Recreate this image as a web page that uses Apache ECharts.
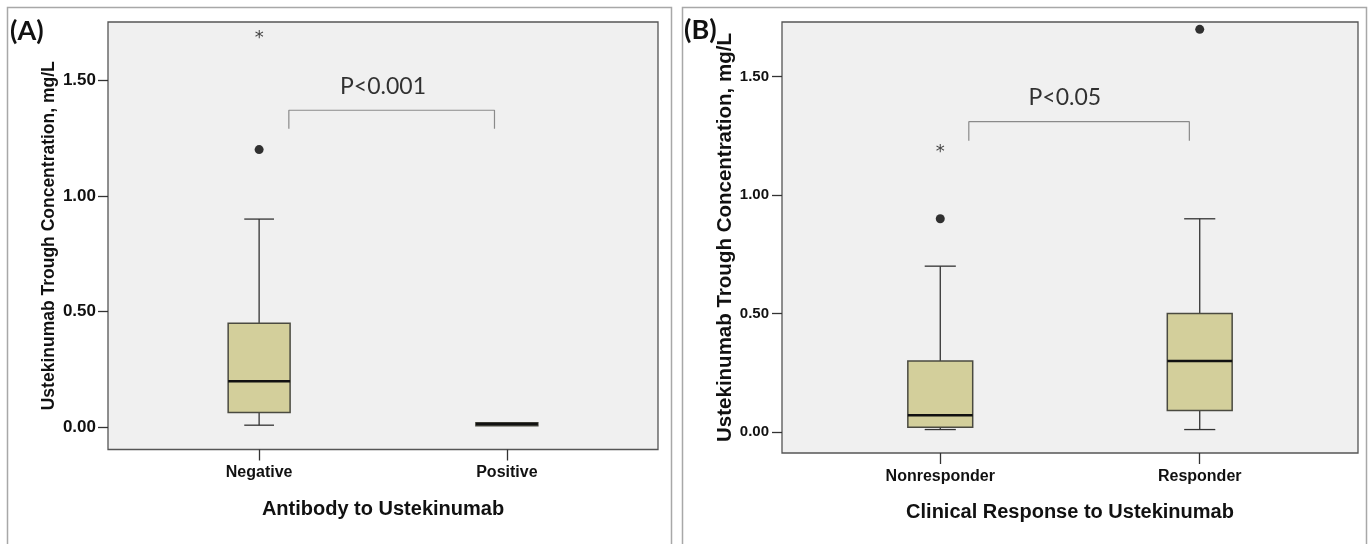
<!DOCTYPE html>
<html>
<head>
<meta charset="utf-8">
<script src="https://cdn.jsdelivr.net/npm/echarts@6/dist/echarts.min.js"></script>
<style>
html,body{margin:0;padding:0;background:#fff;}
#c{width:1370px;height:544px;}
</style>
</head>
<body>
<div id="c"></div>
<script>
// ---------- DATA ----------
const categoriesA = ['Negative', 'Positive'];
const categoriesB = ['Nonresponder', 'Responder'];
// box stats: [lowWhisker, Q1, median, Q3, highWhisker]
const boxA = [[0.01, 0.065, 0.20, 0.45, 0.90], [0.01, 0.01, 0.015, 0.02, 0.02]];
const boxB = [[0.01, 0.02, 0.07, 0.30, 0.70], [0.01, 0.09, 0.30, 0.50, 0.90]];
// outliers (circle) and extremes (star): [categoryIndex(1-based), value]
const outliersA = [[1, 1.20]];
const extremesA = [[1, 1.70]];
const outliersB = [[1, 0.90], [2, 1.70]];
const extremesB = [[1, 1.20]];
// significance brackets: [xLeft, xRight, yTop, yEnd]
const bracketA = [1.12, 1.95, 1.37, 1.29];
const bracketB = [1.11, 1.96, 1.31, 1.23];
const pTextA = 'P<0.001';
const pTextB = 'P<0.05';
const pPosA = [1.50, 1.47];
const pPosB = [1.48, 1.41];
const yTicks = [0, 0.5, 1.0, 1.5];
const xTicks = [1, 2];
const yNameText = 'Ustekinumab Trough Concentration, mg/L';
const xNameA = 'Antibody to Ustekinumab';
const xNameB = 'Clinical Response to Ustekinumab';

// ---------- STYLE ----------
const BOX_FILL = '#d3cf9b';
const BOX_STROKE = '#4a4a40';
const BOX_HALF = 0.125;
const CAP_HALF = 0.06;

function boxData(stats) {
  return stats.map((s, i) => [i + 1].concat(s));
}

function renderBox(params, api) {
  const x = api.value(0);
  const lo = api.value(1), q1 = api.value(2), med = api.value(3), q3 = api.value(4), hi = api.value(5);
  const tl = api.coord([x - BOX_HALF, q3]);
  const br = api.coord([x + BOX_HALF, q1]);
  const c = api.coord([x, 0])[0];
  const yHi = api.coord([x, hi])[1], yLo = api.coord([x, lo])[1];
  const yQ3 = tl[1], yQ1 = br[1];
  const yMed = api.coord([x, med])[1];
  const capL = api.coord([x - CAP_HALF, 0])[0], capR = api.coord([x + CAP_HALF, 0])[0];
  const lineStyle = { stroke: '#333', lineWidth: 1.3 };
  const children = [];
  if (hi > q3) {
    children.push({ type: 'line', shape: { x1: c, y1: yQ3, x2: c, y2: yHi }, style: lineStyle });
    children.push({ type: 'line', shape: { x1: capL, y1: yHi, x2: capR, y2: yHi }, style: lineStyle });
  }
  if (lo < q1) {
    children.push({ type: 'line', shape: { x1: c, y1: yQ1, x2: c, y2: yLo }, style: lineStyle });
    children.push({ type: 'line', shape: { x1: capL, y1: yLo, x2: capR, y2: yLo }, style: lineStyle });
  }
  children.push({ type: 'rect', shape: { x: tl[0], y: tl[1], width: br[0] - tl[0], height: Math.max(br[1] - tl[1], 3) },
    style: { fill: BOX_FILL, stroke: BOX_STROKE, lineWidth: 1.5 } });
  children.push({ type: 'line', shape: { x1: tl[0], y1: yMed, x2: br[0], y2: yMed }, style: { stroke: '#111', lineWidth: 2.5 } });
  return { type: 'group', children: children };
}

function bracketData(b) {
  return [[b[0], b[3]], [b[0], b[2]], [b[1], b[2]], [b[1], b[3]]];
}

function xAxisFor(idx, cats) {
  return {
    type: 'value', gridIndex: idx, min: 0.39, max: 2.61, position: 'bottom',
    splitLine: { show: false },
    axisLine: { show: false, onZero: false },
    axisTick: { show: true, customValues: xTicks, length: 11, inside: false, lineStyle: { color: '#333', width: 1.3 } },
    axisLabel: { customValues: xTicks, margin: idx === 0 ? 15 : 16,
      formatter: v => cats[Math.round(v) - 1] || '',
      fontFamily: 'Liberation Sans, Arial', fontWeight: 'bold', fontSize: 16, color: '#111' },
    name: idx === 0 ? xNameA : xNameB, nameLocation: 'middle', nameGap: idx === 0 ? 50 : 49,
    nameTextStyle: { fontFamily: 'Liberation Sans, Arial', fontWeight: 'bold', fontSize: 20, color: '#111' }
  };
}

function yAxisFor(idx, min, max, labelSize, nameSize, nameGap, margin) {
  return {
    type: 'value', gridIndex: idx, min: min, max: max, position: 'left',
    splitLine: { show: false },
    axisLine: { show: false, onZero: false },
    axisTick: { show: true, customValues: yTicks, length: 10, lineStyle: { color: '#333', width: 1.3 } },
    axisLabel: { customValues: yTicks, margin: margin, formatter: v => v.toFixed(2),
      fontFamily: 'Liberation Sans, Arial', fontWeight: 'bold', fontSize: labelSize, color: '#111' },
    name: yNameText, nameLocation: 'middle', nameGap: nameGap, nameRotate: 90,
    nameTextStyle: { fontFamily: 'Liberation Sans, Arial', fontWeight: 'bold', fontSize: nameSize, color: '#111' }
  };
}

function panelSeries(idx, boxes, outs, exts, br, pText, pPos) {
  return [
    { type: 'custom', xAxisIndex: idx, yAxisIndex: idx, renderItem: renderBox, data: boxData(boxes),
      encode: { x: 0, y: [1, 2, 3, 4, 5] }, silent: true, z: 3 },
    { type: 'scatter', xAxisIndex: idx, yAxisIndex: idx, data: outs, symbol: 'circle', symbolSize: 9,
      itemStyle: { color: '#000' }, silent: true, z: 4 },
    { type: 'scatter', xAxisIndex: idx, yAxisIndex: idx, data: exts, symbolSize: 1,
      itemStyle: { color: 'rgba(0,0,0,0)' }, silent: true, z: 4,
      label: { show: true, position: 'inside', formatter: '*', offset: [0, 5],
        fontFamily: 'DejaVu Sans', fontSize: 18, color: '#111' } },
    { type: 'line', xAxisIndex: idx, yAxisIndex: idx, data: bracketData(br), symbol: 'none',
      lineStyle: { color: '#8a8a8a', width: 1.2 }, silent: true, z: 2, animation: false },
    { type: 'scatter', xAxisIndex: idx, yAxisIndex: idx, data: [pPos], symbolSize: 1,
      itemStyle: { color: 'rgba(0,0,0,0)' }, silent: true, z: 4,
      label: { show: true, position: 'inside', formatter: pText,
        fontFamily: 'Lato, Carlito, sans-serif', fontSize: 23, color: '#000' } }
  ];
}

const chart = echarts.init(document.getElementById('c'), null, { renderer: 'canvas' });
chart.setOption({
  animation: false,
  backgroundColor: '#ffffff',
  grid: [
    { left: 108, top: 22, width: 550, height: 427.5, show: true, backgroundColor: '#f0f0f0', borderColor: '#555', borderWidth: 1.3 },
    { left: 782, top: 22, width: 576, height: 431, show: true, backgroundColor: '#f0f0f0', borderColor: '#555', borderWidth: 1.3 }
  ],
  xAxis: [xAxisFor(0, categoriesA), xAxisFor(1, categoriesB)],
  yAxis: [
    yAxisFor(0, -0.095, 1.751, 17, 17.5, 50, 12),
    yAxisFor(1, -0.089, 1.731, 15, 20.5, 46, 13)
  ],
  graphic: [
    { type: 'rect', shape: { x: 7.5, y: 7.5, width: 664, height: 560 }, style: { fill: 'none', stroke: '#a8a8a8', lineWidth: 1.5 }, z: -10, silent: true },
    { type: 'rect', shape: { x: 682.5, y: 7.5, width: 684, height: 560 }, style: { fill: 'none', stroke: '#a8a8a8', lineWidth: 1.5 }, z: -10, silent: true },
    { type: 'text', left: 10, top: 18, style: { text: '(A)', font: 'bold 27px Lato, Carlito, sans-serif', fill: '#111' }, z: 10 },
    { type: 'text', left: 684, top: 17, style: { text: '(B)', font: 'bold 27px Lato, Carlito, sans-serif', fill: '#111' }, z: 10 }
  ],
  series: [].concat(
    panelSeries(0, boxA, outliersA, extremesA, bracketA, pTextA, pPosA),
    panelSeries(1, boxB, outliersB, extremesB, bracketB, pTextB, pPosB)
  )
});
</script>
</body>
</html>
